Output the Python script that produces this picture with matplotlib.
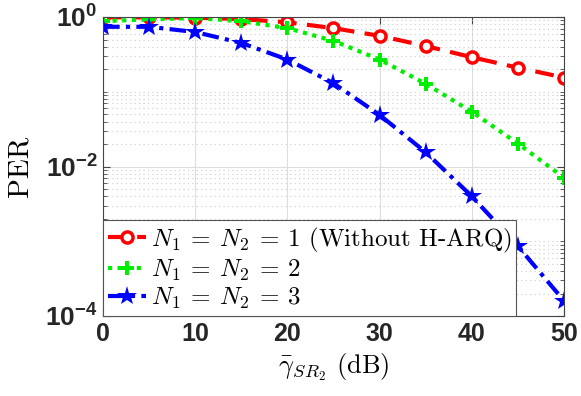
# PER versus average SNR of the S-R2 link, log scale

import matplotlib as mpl
import matplotlib.pyplot as plt
from matplotlib.ticker import LogLocator, NullFormatter

mpl.rcParams['mathtext.fontset'] = 'custom'
mpl.rcParams['mathtext.rm'] = 'cmr10'
mpl.rcParams['mathtext.it'] = 'cmmi10'
mpl.rcParams['mathtext.bf'] = 'Liberation Sans:bold'
mpl.rcParams['axes.formatter.use_mathtext'] = False

# ---------------------------------------------------------------------------- #
#                                     DATA                                     #
# ---------------------------------------------------------------------------- #

snr_db = [0, 5, 10, 15, 20, 25, 30, 35, 40, 45, 50]
per_n1 = [0.99, 0.99, 0.98, 0.94, 0.85, 0.71, 0.56, 0.41, 0.29, 0.21, 0.155]
per_n2 = [0.88, 0.93, 0.97, 0.88, 0.71, 0.48, 0.27, 0.128, 0.054, 0.0203, 0.0071]
per_n3 = [0.74, 0.74, 0.63, 0.45, 0.27, 0.13, 0.049, 0.0155, 0.004, 0.00086, 0.00016]

labels = [r'$N_1\:=\:N_2\:=\:1$ (Without H-ARQ)',
          r'$N_1\:=\:N_2\:=\:2$',
          r'$N_1\:=\:N_2\:=\:3$']
xticks = [0, 10, 20, 30, 40, 50]
yticks = [1e-4, 1e-2, 1e0]
ytick_labels = [r'$\mathbf{10^{-4}}$', r'$\mathbf{10^{-2}}$', r'$\mathbf{10^{0}}$']

# ---------------------------------------------------------------------------- #
#                                     PLOT                                     #
# ---------------------------------------------------------------------------- #

fig = plt.figure(figsize=(5.81, 3.96), dpi=100)
ax = fig.add_axes([0.1773, 0.202, 0.7934, 0.755])

ax.semilogy(snr_db, per_n1, color='red', lw=3, dashes=(4.5, 2.5),
            marker='o', ms=8, mfc='white', mew=2.5, label=labels[0])
ax.semilogy(snr_db, per_n2, color='#00ee00', lw=3, dashes=(1, 1.3),
            marker='P', ms=10, mew=0, label=labels[1])
ax.semilogy(snr_db, per_n3, color='blue', lw=3, dashes=(4, 1.5, 1, 1.5),
            marker='*', ms=15, mew=0, label=labels[2])

ax.set_xlim(0, 50)
ax.set_ylim(1e-4, 1e0)
ax.set_xticks(xticks)
ax.set_xticklabels([str(t) for t in xticks], fontfamily='Liberation Sans',
                   fontweight='bold', fontsize=18, color='#262626')
ax.set_yticks(yticks)
ax.set_yticklabels(ytick_labels, fontsize=19, color='#262626')
ax.yaxis.set_minor_locator(LogLocator(base=10, subs=range(1, 10), numticks=20))
ax.yaxis.set_minor_formatter(NullFormatter())

ax.tick_params(which='both', direction='in', color='#444444', top=True, right=True)
ax.tick_params(which='major', length=5, pad=4)
ax.tick_params(which='minor', length=3)
for s in ax.spines.values():
    s.set_color('#444444')

ax.grid(True, which='major', color='#dddddd', lw=0.8)
ax.grid(True, which='minor', axis='y', color='#cccccc', lw=0.8, ls=(0, (1, 3)))

ax.set_xlabel(r'$\bar{\gamma}_{SR_2}$ (dB)', fontfamily='cmr10', fontsize=19, labelpad=4)
ax.set_ylabel('PER', fontfamily='cmr10', fontsize=21, labelpad=8)

leg = ax.legend(loc='lower left', bbox_to_anchor=(0, 0), borderaxespad=0,
                prop={'family': 'cmr10', 'size': 18}, fancybox=False,
                framealpha=1, edgecolor='#555555', handlelength=1.5,
                handletextpad=0.2, labelspacing=0.12, borderpad=0.2)
leg.get_frame().set_linewidth(0.8)

plt.savefig('out.png', dpi=100)
